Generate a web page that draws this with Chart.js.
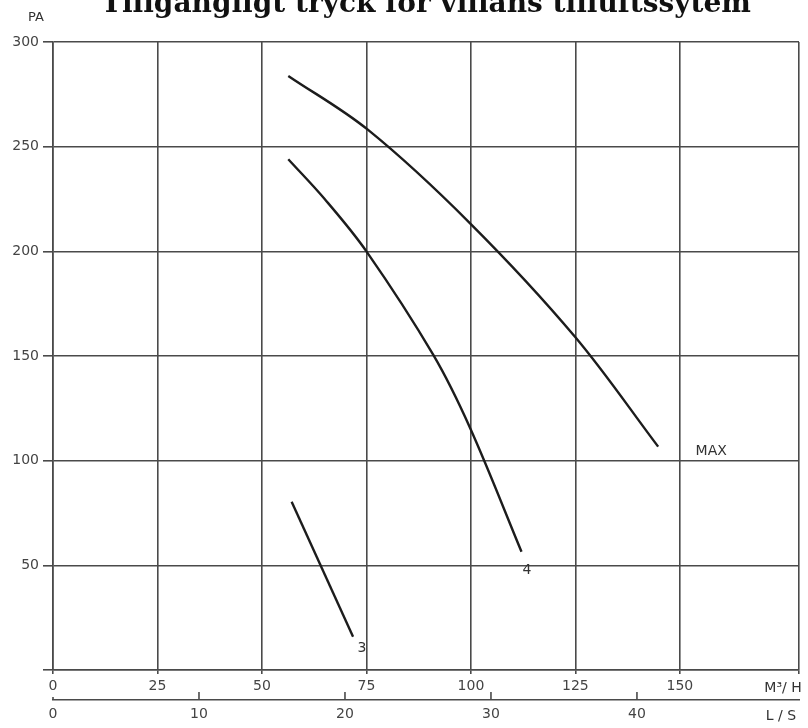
<!DOCTYPE html>
<html>
<head>
<meta charset="utf-8">
<script src="https://cdn.jsdelivr.net/npm/chart.js@4.4.1/dist/chart.umd.min.js"></script>
<style>
  html, body { margin: 0; padding: 0; background: #fff; }
  #frame { width: 808px; height: 728px; overflow: hidden; position: relative; }
  #box { position: absolute; left: 0; top: -12px; width: 808px; height: 740px; }
</style>
</head>
<body>
<div id="frame"><div id="box"><canvas id="myChart"></canvas></div></div>
<script>
// data (flow in m3/h, pressure in Pa)
const maxFlow = [56.3, 75.4, 99.8, 124.9, 144.8];
const maxPa   = [283.8, 258, 213.4, 159.2, 106.7];
const s4Flow  = [56.3, 65, 75, 91, 99.8, 112.1];
const s4Pa    = [244, 225, 200, 150.5, 115.6, 56.5];
const s3Flow  = [57.1, 71.8];
const s3Pa    = [80.4, 15.9];

const curveNames = ["MAX", "4", "3"];
const nameFlow = [157.5, 113.4, 73.9];
const namePa   = [104.6, 47.8, 10.5];

const flowTicks = [0, 25, 50, 75, 100, 125, 150];
const paTicks = [0, 50, 100, 150, 200, 250, 300];
const lsTicks = [0, 10, 20, 30, 40];

const FLOW_MAX = 178.5;
const LS_MAX = 51.1;

const ink = "#1c1c1c";
const gridCol = "#4a4a4a";
const tickFont = { family: "DejaVu Sans", size: 14 };

function pts(xs, ys) {
  return xs.map((v, i) => ({ x: v, y: ys[i] }));
}

// labels drawn on top: curve names, units, L/S tick marks
const extraText = {
  id: "extraText",
  afterDraw(chart) {
    const { ctx, scales } = chart;
    const x = scales.x, y = scales.y, ls = scales.ls;
    ctx.save();
    ctx.fillStyle = "#333";
    ctx.textAlign = "center";
    ctx.textBaseline = "middle";
    ctx.font = '14px "DejaVu Sans"';
    curveNames.forEach((t, i) => {
      ctx.fillText(t, x.getPixelForValue(nameFlow[i]), y.getPixelForValue(namePa[i]));
    });
    ctx.font = '13px "DejaVu Sans"';
    ctx.fillText("PA", 36, y.top - 24);
    ctx.font = '14px "DejaVu Sans"';
    ctx.fillText("M\u00B3/ H", x.right - 16, x.top + 18);
    ctx.fillText("L / S", x.right - 18, ls.top + 16);

    ctx.strokeStyle = gridCol;
    ctx.lineWidth = 1.6;
    lsTicks.forEach(v => {
      const px = ls.getPixelForValue(v);
      ctx.beginPath();
      ctx.moveTo(px, ls.top);
      ctx.lineTo(px, ls.top - (v === 0 ? 3 : 8));
      ctx.stroke();
    });
    ctx.restore();
  }
};

const ctx = document.getElementById("myChart");

new Chart(ctx, {
  type: "scatter",
  data: {
    datasets: [
      { label: "MAX", data: pts(maxFlow, maxPa) },
      { label: "4", data: pts(s4Flow, s4Pa) },
      { label: "3", data: pts(s3Flow, s3Pa) },
    ].map(d => Object.assign(d, {
      showLine: true,
      borderColor: ink,
      borderWidth: 2.4,
      pointRadius: 0,
      tension: 0.35,
    })),
  },
  options: {
    responsive: true,
    maintainAspectRatio: false,
    animation: false,
    devicePixelRatio: 1,
    layout: { padding: { left: 0, right: 9, top: 0, bottom: 0 } },
    plugins: {
      legend: { display: false },
      tooltip: { enabled: false },
      title: {
        display: true,
        fullSize: false,
        text: "Tillgängligt tryck för villans tilluftssytem",
        color: "#111",
        font: { family: "DejaVu Serif", size: 28, weight: "bold", lineHeight: 1.2 },
        padding: { top: 0, bottom: 20.4 },
      },
    },
    scales: {
      x: {
        type: "linear",
        position: "bottom",
        min: 0,
        max: FLOW_MAX,
        afterBuildTicks: s => { s.ticks = flowTicks.concat([FLOW_MAX]).map(v => ({ value: v })); },
        afterFit: s => { s.height = 30; },
        ticks: {
          color: "#444",
          font: tickFont,
          padding: 4,
          maxRotation: 0,
          callback: v => (flowTicks.includes(v) ? String(v) : ""),
        },
        grid: { color: gridCol, lineWidth: 1.6, tickLength: 4 },
        border: { color: gridCol, width: 1.6 },
      },
      ls: {
        type: "linear",
        position: "bottom",
        min: 0,
        max: LS_MAX,
        afterBuildTicks: s => { s.ticks = lsTicks.concat([LS_MAX]).map(v => ({ value: v })); },
        afterFit: s => { s.height = 28; },
        ticks: {
          color: "#444",
          font: tickFont,
          padding: 6,
          maxRotation: 0,
          callback: v => (lsTicks.includes(v) ? String(v) : ""),
        },
        grid: { display: false, drawTicks: false },
        border: { color: gridCol, width: 1.6 },
      },
      y: {
        type: "linear",
        min: 0,
        max: 300,
        afterBuildTicks: s => { s.ticks = paTicks.map(v => ({ value: v })); },
        afterFit: s => { s.width = 53; },
        ticks: {
          color: "#444",
          font: tickFont,
          padding: 4,
          callback: v => (v === 0 ? "" : String(v)),
        },
        grid: { color: gridCol, lineWidth: 1.6, tickLength: 10 },
        border: { color: gridCol, width: 1.6 },
      },
    },
  },
  plugins: [extraText],
});
</script>
</body>
</html>
